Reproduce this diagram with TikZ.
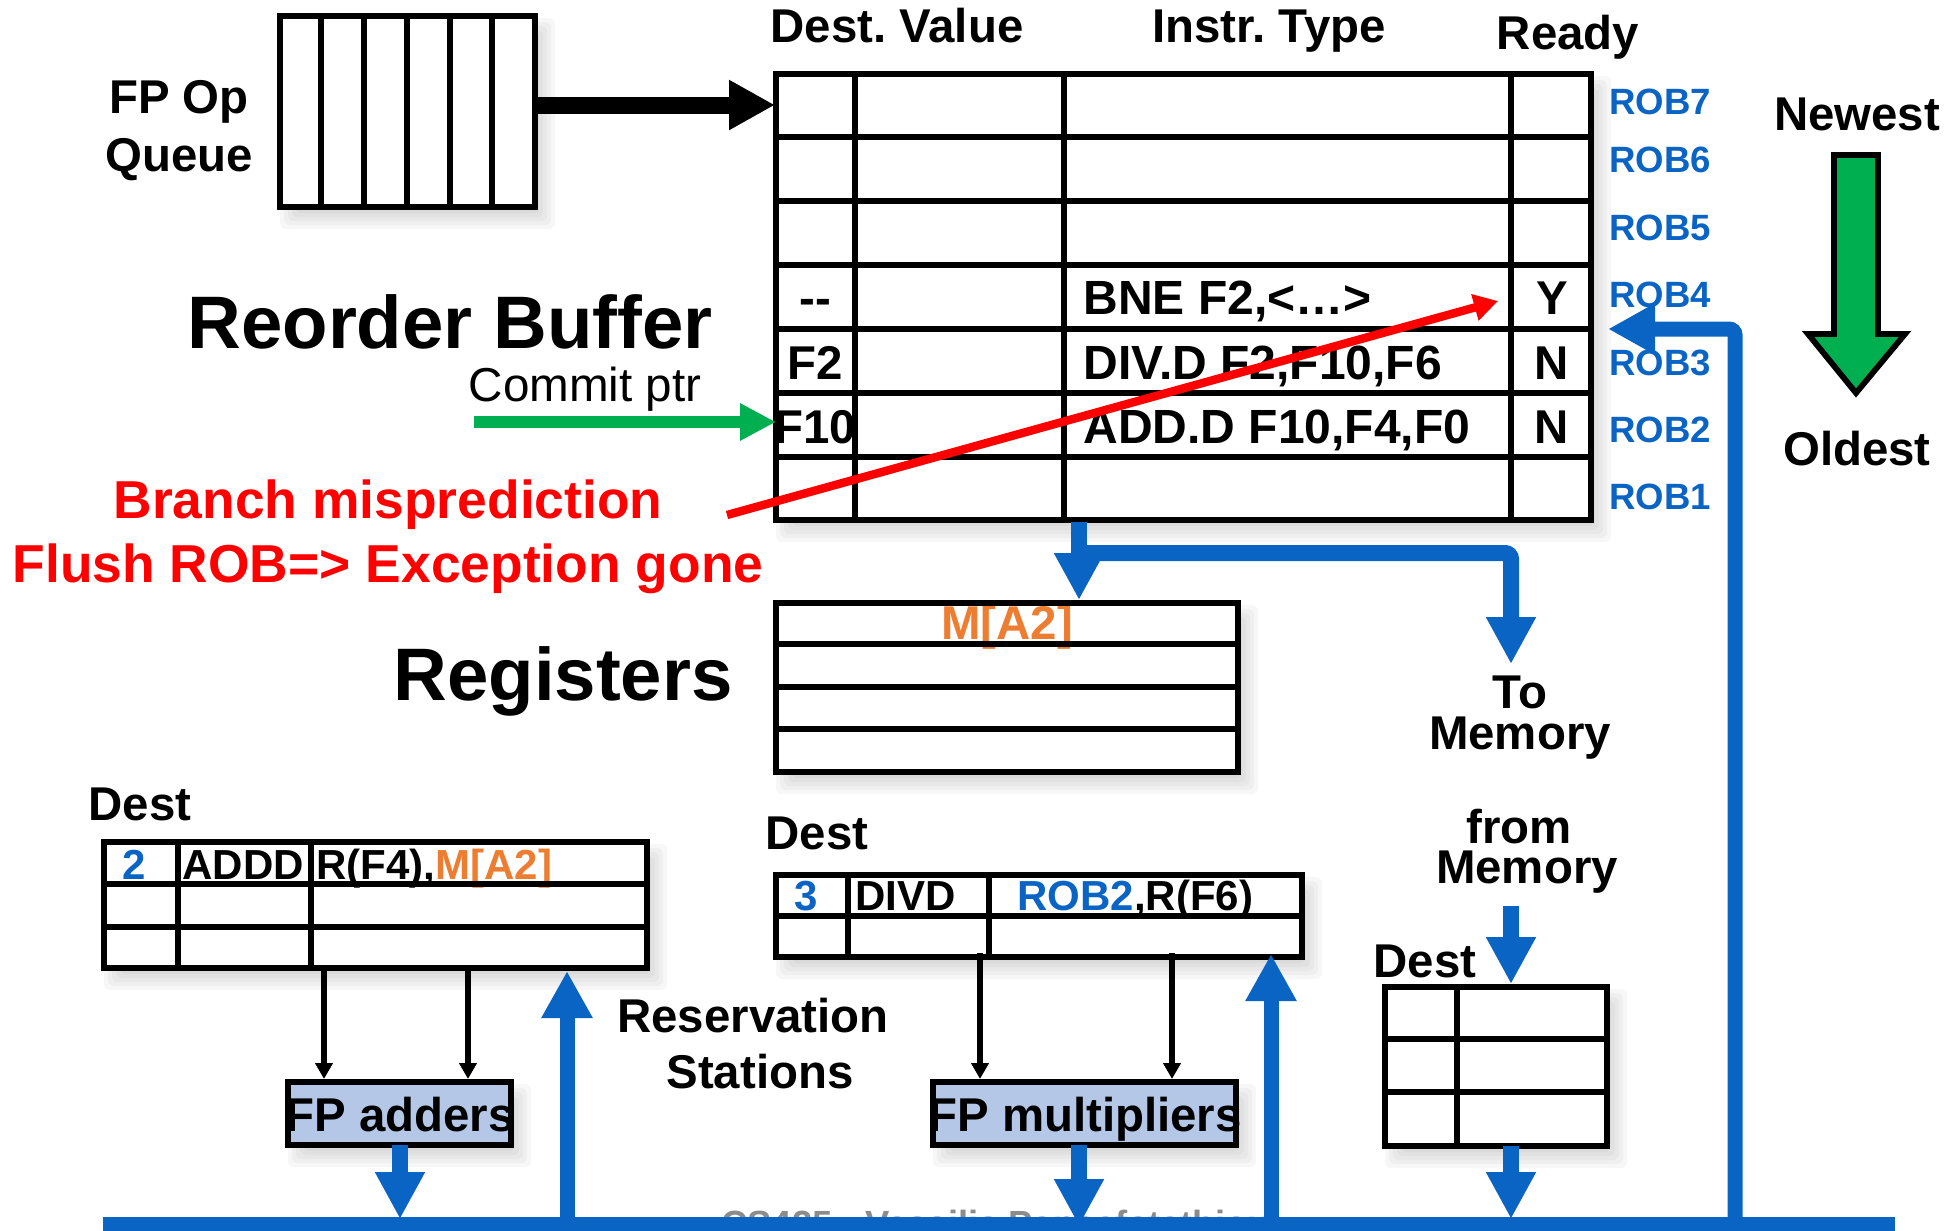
\documentclass[tikz,border=0pt]{standalone}
\usepackage{fontspec}
\setmainfont{Liberation Sans}
\usetikzlibrary{arrows.meta,calc}
\definecolor{rbl}{HTML}{0A64C3}
\definecolor{ror}{HTML}{ED7D31}
\definecolor{rgr}{HTML}{00B050}
\definecolor{rfl}{HTML}{B4C7E7}
\newcommand{\fs}[1]{\fontsize{#1pt}{#1pt}\selectfont}
\frenchspacing
\tikzset{
  tbl/.style={draw=black,line width=2.9pt,inner sep=0pt,outer sep=0pt},
  fu/.style={tbl,fill=rfl},
  gline/.style={draw=black,line width=2.9pt},
  lab/.style={anchor=base,inner sep=0pt,font=\bfseries\fs{23.7}},
  big/.style={anchor=base,inner sep=0pt,font=\bfseries\fs{37.2}},
  cell/.style={anchor=base west,inner sep=0pt,font=\bfseries\fs{21}},
  robt/.style={anchor=base west,inner sep=0pt,font=\bfseries\fs{18.3},text=rbl},
  redt/.style={anchor=base,inner sep=0pt,font=\bfseries\fs{26.7},text=red},
  bus/.style={draw=rbl,line width=8pt,-{Triangle[length=23.5pt,width=23.5pt]}},
  busup/.style={draw=rbl,line width=7.5pt,-{Triangle[length=23.5pt,width=24pt]}},
  thinarr/.style={draw=black,line width=2.6pt,-{Triangle[length=8pt,width=8.5pt]}},
}
\newcommand{\mkbox}[6]{%
  \pgfmathsetmacro\cxx{(#3+#5)/2}\pgfmathsetmacro\cyy{(#4+#6)/2}%
  \pgfmathsetmacro\www{(#5-#3)*0.5}\pgfmathsetmacro\hhh{(#6-#4)*0.5}%
  \node[#1,minimum width=\www pt,minimum height=\hhh pt] (#2) at (\cxx,\cyy) {};}
\newcommand{\softsh}[4]{%
  \foreach \d in {-10,-6,-2,2,6,10}{%
    \fill[black,opacity=0.03,rounded corners=3pt]
      ($(#1+\d+10,#2+\d+12)$) rectangle ($(#3-\d+10,#4-\d+12)$);}%
  \fill[white] (#1,#2) rectangle (#3,#4);}
\begin{document}
\begin{tikzpicture}[x=0.5pt,y=-0.5pt]
\useasboundingbox (0,0) rectangle (1959,1231);
% shadows
\softsh{280}{16}{535}{207}
\softsh{776}{74}{1591}{520}
\softsh{776}{603}{1238}{772}
\softsh{104}{842}{647}{968}
\softsh{776}{875}{1302}{957}
\softsh{1385}{987}{1607}{1146}
\softsh{288}{1082}{511}{1145}
\softsh{933}{1082}{1236}{1145}
% footer, mostly hidden by the bus
\node[anchor=base west,inner sep=0pt,font=\bfseries\fs{18.2},text=black!45] (foot) at (721,1236) {CS425 - Vassilis Papaefstathiou};
% FP op queue
\mkbox{tbl}{queue}{280}{16}{535}{207}
\foreach \x in {321,364,407,450,492}{\draw[gline] (\x,16) -- (\x,207);}
\node[lab] (fpop) at (179,113) {FP Op};
\node[lab] (fpq) at (179,171) {Queue};
% ROB table
\mkbox{tbl}{robtable}{776}{74}{1591}{520}
\foreach \y in {137,201,265,329,393,457}{\draw[gline] (776,\y) -- (1591,\y);}
\foreach \x in {855,1064,1511}{\draw[gline] (\x,74) -- (\x,520);}
\node[lab] (hd1) at (897,42) {Dest. Value};
\node[lab] (hd2) at (1269,42) {Instr. Type};
\node[lab] (hd3) at (1568,49) {Ready};
\node[lab] (e4) at (815,314) {{-}{-}};
\node[lab] (e3) at (815,379) {F2};
\node[lab] (e2) at (815,443) {F10};
\node[cell,font=\bfseries\fs{24}] (i4) at (1083,314) {BNE F2,<…>};
\node[cell,font=\bfseries\fs{24}] (i3) at (1083,379) {DIV.D F2,F10,F6};
\node[cell,font=\bfseries\fs{24}] (i2) at (1083,443) {ADD.D F10,F4,F0};
\node[lab] (r4) at (1552,314) {Y};
\node[lab] (r3) at (1552,379) {N};
\node[lab] (r2) at (1552,443) {N};
\node[robt] (rob7) at (1609,114) {ROB7};
\node[robt] (rob6) at (1609,172) {ROB6};
\node[robt] (rob5) at (1609,240) {ROB5};
\node[robt] (rob4) at (1609,307) {ROB4};
\node[robt] (rob3) at (1609,375) {ROB3};
\node[robt] (rob2) at (1609,442) {ROB2};
\node[robt] (rob1) at (1609,509) {ROB1};
% titles
\node[big] (tr) at (450,348) {Reorder Buffer};
\node[big] (tg) at (563,700) {Registers};
\node[anchor=base,inner sep=0pt,font=\fs{23.8}] (cp) at (585,401) {Commit ptr};
\node[redt] (m1) at (388,518) {Branch misprediction};
\node[redt] (m2) at (388,582) {Flush ROB=> Exception gone};
\node[lab] (new) at (1857,130) {Newest};
\node[lab] (old) at (1857,465) {Oldest};
\draw[draw=black,fill=rgr,line width=2.9pt,miter limit=10]
  (1834,155) -- (1878,155) -- (1878,334) -- (1905,334) -- (1856,393) -- (1808,334) -- (1834,334) -- cycle;
% registers
\node[lab,text=ror] (ma) at (1007,639) {M[A2]};
\mkbox{tbl}{regs}{776}{603}{1238}{772}
\foreach \y in {644,687,729}{\draw[gline] (776,\y) -- (1238,\y);}
% RS 1
\node[lab] (d1) at (140,820) {Dest};
\node[cell,text=rbl] (n2) at (122,879) {2};
\node[cell] (a1) at (182,879) {ADDD};
\node[cell] (a2) at (316,879) {R(F4),\textcolor{ror}{M[A2]}};
\mkbox{tbl}{rs1}{104}{842}{647}{968}
\foreach \y in {884,927}{\draw[gline] (104,\y) -- (647,\y);}
\foreach \x in {178,311}{\draw[gline] (\x,842) -- (\x,968);}
% RS 2
\node[lab] (d2) at (817,849) {Dest};
\node[cell,text=rbl] (n3) at (794,910) {3};
\node[cell] (a3) at (855,910) {DIVD};
\node[cell] (a4) at (1017,910) {\textcolor{rbl}{ROB2},R(F6)};
\mkbox{tbl}{rs2}{776}{875}{1302}{957}
\draw[gline] (776,916) -- (1302,916);
\foreach \x in {848,989}{\draw[gline] (\x,875) -- (\x,957);}
% RS 3
\node[lab] (d3) at (1425,977) {Dest};
\mkbox{tbl}{rs3}{1385}{987}{1607}{1146}
\foreach \y in {1039,1092}{\draw[gline] (1385,\y) -- (1607,\y);}
\draw[gline] (1457,987) -- (1457,1146);
% labels
\node[lab] (to) at (1520,708) {To};
\node[lab] (tom) at (1520,749) {Memory};
\node[lab] (from) at (1519,843) {from};
\node[lab] (fromm) at (1527,883) {Memory};
\node[lab] (rs) at (753,1032) {Reservation};
\node[lab] (st) at (760,1088) {Stations};
% FU
\mkbox{fu}{add}{288}{1082}{511}{1145}
\mkbox{fu}{mul}{933}{1082}{1236}{1145}
\node[lab] (addt) at (400,1131) {FP adders};
\node[lab] (mult) at (1085,1131) {FP multipliers};
% coordinates
\coordinate (q1) at (535,105);   \coordinate (q2) at (775,105);
\coordinate (c1) at (474,422);   \coordinate (c2) at (776,422);
\coordinate (f1) at (727,515);   \coordinate (f2) at (1498,301);
\coordinate (o1) at (1079,522);  \coordinate (o2) at (1079,600);
\coordinate (o3) at (1079,553);  \coordinate (o4) at (1511,664);
\coordinate (b1) at (1735,1225); \coordinate (b2) at (1608,329);
\coordinate (h1) at (1511,906);  \coordinate (h2) at (1511,984);
\coordinate (k1) at (1511,1146); \coordinate (k2) at (1511,1219);
\coordinate (u1) at (400,1145);  \coordinate (u2) at (400,1219);
\coordinate (v1) at (1079,1145); \coordinate (v2) at (1079,1226);
\coordinate (w1) at (567,1225);  \coordinate (w2) at (567,971);
\coordinate (y1) at (1271,1225); \coordinate (y2) at (1271,954);
\coordinate (z1) at (324,970);   \coordinate (z2) at (324,1079);
\coordinate (z3) at (468,970);   \coordinate (z4) at (468,1079);
\coordinate (z5) at (980,953);   \coordinate (z6) at (980,1079);
\coordinate (z7) at (1172,953);  \coordinate (z8) at (1172,1079);
% connectors
\draw[black,line width=8.5pt,-{Triangle[length=23pt,width=23.5pt]}] (q1) -- (q2);
\draw[rgr,line width=6.3pt,-{Triangle[length=18pt,width=17.5pt]}] (c1) -- (c2);
\draw[red,line width=4.2pt,-{Triangle[length=12pt,width=13pt]}] (f1) -- (f2);
\draw[thinarr] (z1) -- (z2);
\draw[thinarr] (z3) -- (z4);
\draw[thinarr] (z5) -- (z6);
\draw[thinarr] (z7) -- (z8);
\draw[bus] (o1) -- (o2);
\draw[bus,rounded corners=3pt] (o3) -| (o4);
\draw[bus] (h1) -- (h2);
\draw[bus] (k1) -- (k2);
\draw[bus] (u1) -- (u2);
\draw[bus] (v1) -- (v2);
\draw[busup] (w1) -- (w2);
\draw[busup] (y1) -- (y2);
\draw[busup,rounded corners=3pt] (b1) |- (b2);
\fill[rbl] (103,1217) rectangle (1895,1231);
\end{tikzpicture}
\end{document}
